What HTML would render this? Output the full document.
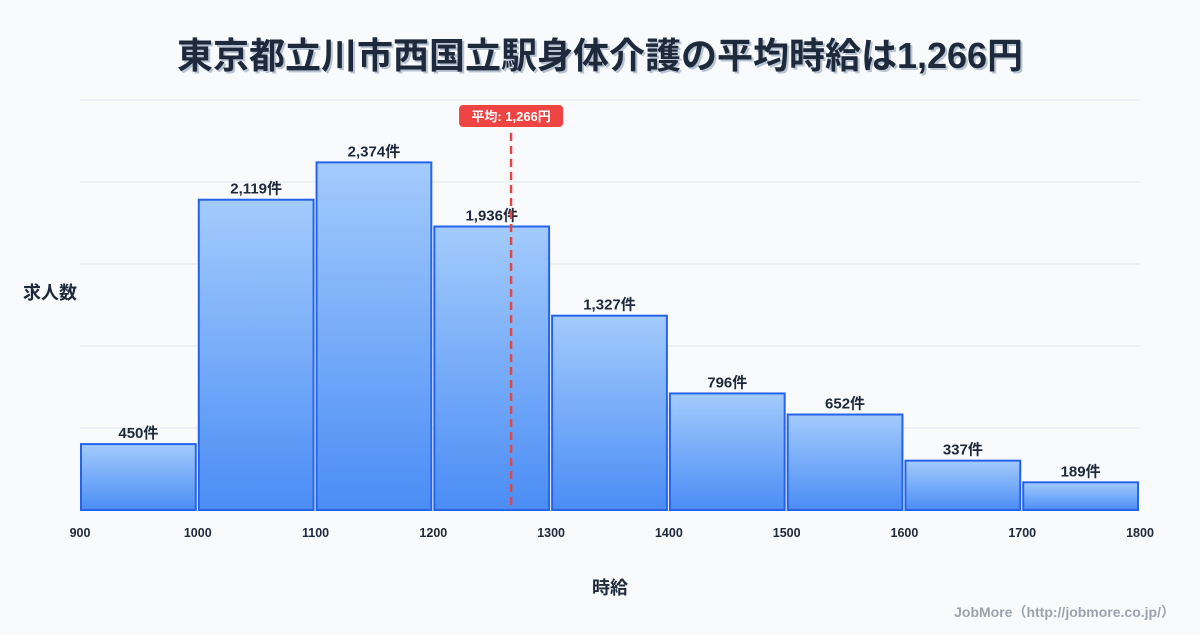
<!DOCTYPE html>
<html><head><meta charset="utf-8">
<style>
body{margin:0;background:#f8fafc;}
svg text{font-family:"Liberation Sans","Noto Sans CJK JP",sans-serif;}
</style></head>
<body>
<svg id="chart" width="1200" height="630" viewBox="0 0 1200 630" xmlns="http://www.w3.org/2000/svg">
<defs>
<linearGradient id="g" x1="0" y1="0" x2="0" y2="1">
<stop offset="0" stop-color="#a3cbfc"/><stop offset="1" stop-color="#4b8df5"/>
</linearGradient>
</defs>
<rect width="1200" height="630" fill="#f8fafc"/>
<text x="600" y="68" text-anchor="middle" font-size="36" font-weight="bold" fill="#b8c4d4" transform="translate(2,2)">東京都立川市西国立駅身体介護の平均時給は1,266円</text>
<text x="600" y="68" text-anchor="middle" font-size="36" font-weight="bold" fill="#1e293b">東京都立川市西国立駅身体介護の平均時給は1,266円</text>
<g id="grid"></g>
<g id="bars"></g>
<g id="xticks"></g>
<g id="avg"></g>
<text x="50" y="299" text-anchor="middle" font-size="18" font-weight="bold" fill="#1e293b">求人数</text>
<text x="610" y="594" text-anchor="middle" font-size="18" font-weight="bold" fill="#1e293b">時給</text>
<text x="1175" y="617" text-anchor="end" font-size="14" font-weight="bold" fill="#9ca3af">JobMore（http://jobmore.co.jp/）</text>
</svg>
<script>
const binStarts=[900,1000,1100,1200,1300,1400,1500,1600,1700];
const counts=[450,2119,2374,1936,1327,796,652,337,189];
const countLabels=["450件","2,119件","2,374件","1,936件","1,327件","796件","652件","337件","189件"];
const xTicks=[900,1000,1100,1200,1300,1400,1500,1600,1700,1800];
const avgValue=1266;
const avgLabel="平均: 1,266円";
const NS="http://www.w3.org/2000/svg";
const x0=80,x1=1140,yBase=510,yTop=100,yMax=2800;
const sx=v=>x0+(v-900)/900*(x1-x0);
const sy=v=>yBase-v/yMax*(yBase-yTop);
function mk(t,a,p){const e=document.createElementNS(NS,t);for(const k in a)e.setAttribute(k,a[k]);p.appendChild(e);return e;}
const grid=document.getElementById('grid');
for(let i=0;i<=5;i++){const y=yBase-i*(yBase-yTop)/5;
const l=mk('line',{x1:x0,x2:x1,y1:y,y2:y,stroke:'#e2e8f0','stroke-width':1},grid);

}
const bars=document.getElementById('bars');
binStarts.forEach((b,i)=>{
const xa=sx(b)+1,xb=sx(b+100)-2,y=sy(counts[i]);
const r=mk('rect',{x:xa,y:y,width:xb-xa,height:yBase-y,fill:'url(#g)',stroke:'#2563eb','stroke-width':2},bars);


const t=mk('text',{x:(xa+xb)/2,y:y-6,'text-anchor':'middle','font-size':15,'font-weight':'bold',fill:'#1e293b'},bars);
t.textContent=countLabels[i];


});
const xt=document.getElementById('xticks');
xTicks.forEach(v=>{const t=mk('text',{x:sx(v),y:537,'text-anchor':'middle','font-size':12.5,'font-weight':'bold',fill:'#1e293b'},xt);
t.textContent=v;

});
const av=document.getElementById('avg');const ax=sx(avgValue);
const dl=mk('line',{x1:ax,x2:ax,y1:133,y2:yBase,stroke:'#e04848','stroke-width':2.5,'stroke-dasharray':'8,5'},av);


const br=mk('rect',{x:ax-52,y:105,width:104,height:22,rx:4,fill:'#ef4444'},av);


const bt=mk('text',{x:ax,y:121,'text-anchor':'middle','font-size':13,'font-weight':'bold',fill:'#ffffff'},av);
bt.textContent=avgLabel;


</script>
</body></html>
